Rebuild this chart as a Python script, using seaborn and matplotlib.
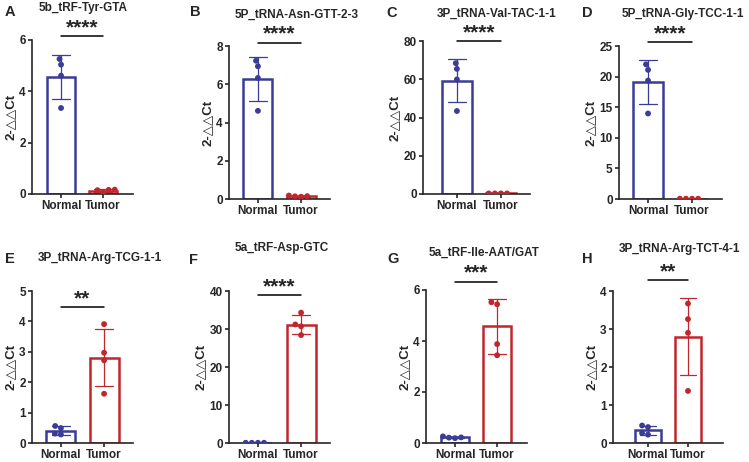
import numpy as np
import pandas as pd
import matplotlib
matplotlib.use("Agg")
import matplotlib.pyplot as plt
import seaborn as sns

# panel data
letters = ["A", "B", "C", "D", "E", "F", "G", "H"]
titles = ["5b_tRF-Tyr-GTA", "5P_tRNA-Asn-GTT-2-3", "3P_tRNA-Val-TAC-1-1",
          "5P_tRNA-Gly-TCC-1-1", "3P_tRNA-Arg-TCG-1-1", "5a_tRF-Asp-GTC",
          "5a_tRF-Ile-AAT/GAT", "3P_tRNA-Arg-TCT-4-1"]
groups = ["Normal", "Tumor"]
normal_vals = [
    [5.26, 5.04, 4.61, 3.35],
    [7.23, 6.94, 6.33, 4.61],
    [68.4, 65.4, 59.9, 43.4],
    [22.0, 21.1, 19.35, 13.97],
    [0.56, 0.49, 0.31, 0.28],
    [0.06, 0.06, 0.06, 0.06],
    [0.26, 0.21, 0.22, 0.19],
    [0.46, 0.42, 0.22, 0.26],
]
tumor_vals = [
    [0.06, 0.15, 0.16, 0.17],
    [0.12, 0.18, 0.15, 0.14],
    [0.3, 0.3, 0.3, 0.3],
    [0.05, 0.05, 0.05, 0.05],
    [3.91, 2.97, 2.72, 1.62],
    [34.3, 31.2, 30.7, 28.4],
    [5.52, 5.44, 3.88, 3.44],
    [3.67, 3.26, 2.90, 1.37],
]
y_max = [6, 8, 80, 25, 5, 40, 6, 4]
y_step = [2, 2, 20, 5, 1, 10, 2, 1]
sig_labels = ["****", "****", "****", "****", "**", "****", "***", "**"]
sig_heights = [6.14, 8.18, 80.0, 25.65, 4.48, 38.9, 6.33, 4.28]

# layout in pixels: left spine, top, right end, bottom; and x margins
W, H = 749, 462
rects = [(32, 40, 133, 194), (229, 46, 330, 199), (423, 41, 530, 194), (619, 46, 722, 199),
         (32, 291, 133, 443), (229, 291, 330, 443), (426, 290, 527, 443), (613, 291, 723, 443)]
x_margins = [(0.69, 0.71), (0.67, 0.67), (0.77, 0.66), (0.66, 0.68),
             (0.67, 0.67), (0.67, 0.67), (0.69, 0.71), (0.875, 0.875)]
title_pos = [(83, 8), (297, 15), (497, 14), (683, 14), (100, 258), (282, 248), (484, 253), (680, 249)]
letter_pos = [(5, 12), (190, 12), (386, 13), (582, 13), (5, 259), (189, 260), (387, 259), (582, 259)]

blue = "#3b3b98"
red = "#c0272d"
palette = {"Normal": blue, "Tumor": red}

sns.set_style("ticks")
plt.rcParams["font.family"] = ["Liberation Sans", "DejaVu Sans"]
plt.rcParams["font.weight"] = "bold"

fig = plt.figure(figsize=(W / 100, H / 100), dpi=100)

for i in range(8):
    df = pd.DataFrame({
        "group": ["Normal"] * len(normal_vals[i]) + ["Tumor"] * len(tumor_vals[i]),
        "value": normal_vals[i] + tumor_vals[i],
    })
    l, t, r, b = rects[i]
    ax = fig.add_axes([l / W, 1 - b / H, (r - l) / W, (b - t) / H])

    sns.barplot(data=df, x="group", y="value", hue="group", palette=palette, order=groups,
                fill=False, linewidth=1.8, width=0.67, errorbar="sd", capsize=0.42,
                err_kws={"linewidth": 0.9}, legend=False, ax=ax)
    # error bar colors per group
    for line, col in zip(ax.lines, [blue, red]):
        line.set_color(col)
    sns.swarmplot(data=df, x="group", y="value", hue="group", palette=palette, order=groups,
                  size=4.2, legend=False, ax=ax)

    ax.set_xlim(-x_margins[i][0], 1 + x_margins[i][1])
    ax.set_ylim(0, y_max[i])
    ax.set_yticks(np.arange(0, y_max[i] + 0.001, y_step[i]))
    ax.set_xlabel("")
    ax.set_ylabel("2-△△Ct", fontsize=9.5, fontweight="bold", labelpad=2)
    ax.tick_params(axis="both", labelsize=8.5, width=1.2, length=3, pad=1.5)
    for lab in ax.get_xticklabels() + ax.get_yticklabels():
        lab.set_fontweight("bold")
    sns.despine(ax=ax)
    for sp in ["left", "bottom"]:
        ax.spines[sp].set_linewidth(1.2)

    # significance bracket
    ax.plot([0, 1], [sig_heights[i]] * 2, color="black", lw=1.1, clip_on=False)
    ax.annotate(sig_labels[i], xy=(0.5, sig_heights[i]), xytext=(0, 6),
                textcoords="offset points", ha="center", va="center",
                fontsize=15, fontweight="bold", annotation_clip=False)

    fig.text(title_pos[i][0] / W, 1 - title_pos[i][1] / H, titles[i], ha="center", va="center",
             fontsize=8.5, fontweight="bold")
    fig.text(letter_pos[i][0] / W, 1 - letter_pos[i][1] / H, letters[i], ha="left", va="center",
             fontsize=10.5, fontweight="bold")

fig.savefig("out.png", dpi=100)
